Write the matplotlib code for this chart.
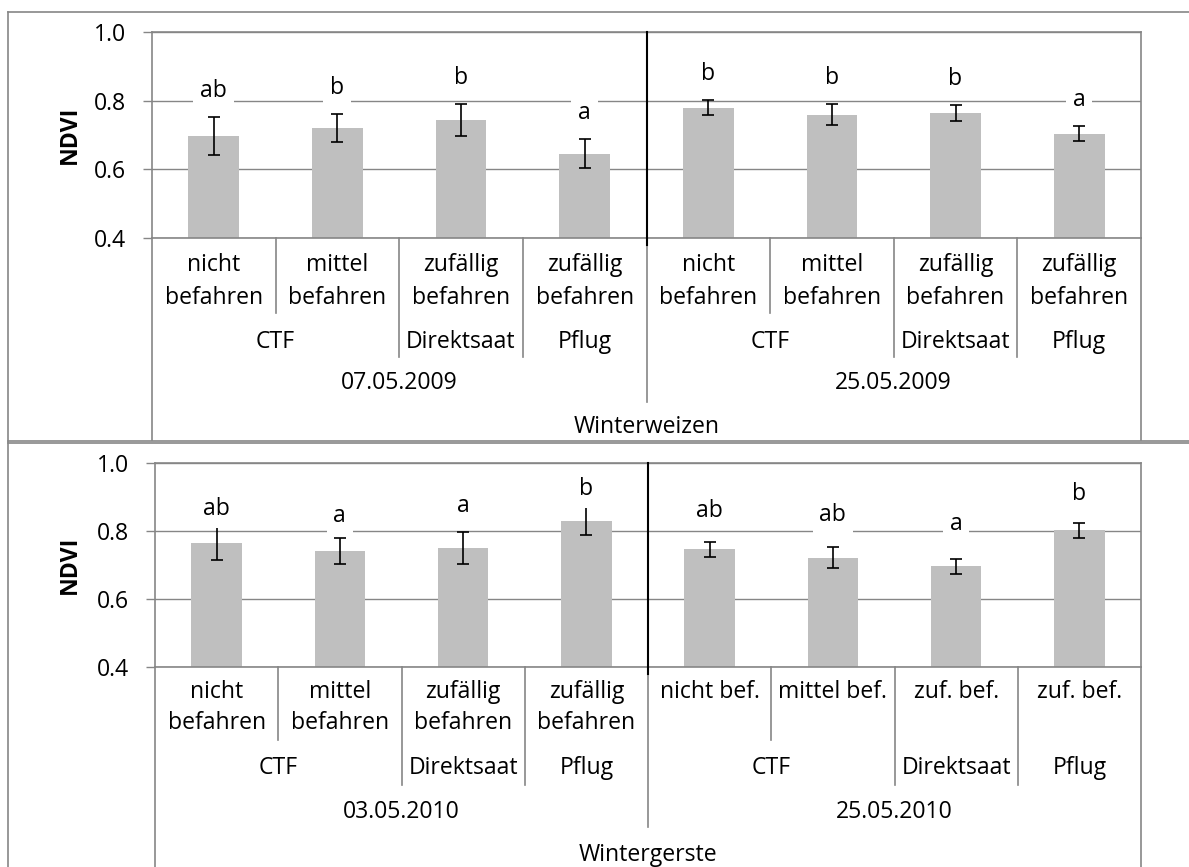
import matplotlib
matplotlib.use("Agg")
import matplotlib.pyplot as plt
from matplotlib.transforms import Affine2D, blended_transform_factory

# ---------------- data ----------------
treat_long = ["nicht\nbefahren", "mittel\nbefahren", "zufällig\nbefahren", "zufällig\nbefahren"]
treat_short = ["nicht bef.", "mittel bef.", "zuf. bef.", "zuf. bef."]
systems = ["CTF", "Direktsaat", "Pflug"]
system_spans = [2, 1, 1]

dates_ww = ["07.05.2009", "25.05.2009"]
dates_wg = ["03.05.2010", "25.05.2010"]
crops = ["Winterweizen", "Wintergerste"]

ndvi_ww = [0.697, 0.721, 0.743, 0.646, 0.780, 0.759, 0.764, 0.704]
err_ww = [0.054, 0.040, 0.047, 0.042, 0.022, 0.030, 0.022, 0.021]
letters_ww = ["ab", "b", "b", "a", "b", "b", "b", "a"]

ndvi_wg = [0.764, 0.741, 0.749, 0.829, 0.745, 0.721, 0.696, 0.801]
err_wg = [0.050, 0.039, 0.047, 0.040, 0.022, 0.030, 0.022, 0.022]
letters_wg = ["ab", "a", "a", "b", "ab", "ab", "a", "b"]

yticks = [0.4, 0.6, 0.8, 1.0]

# ---------------- layout / style ----------------
W, H = 1189, 867
FONT = "Open Sans"
FS = 16.6
GRAY = "#868686"
BAR = "#BFBFBF"

plt.rcParams["font.family"] = [FONT, "DejaVu Sans"]

fig = plt.figure(figsize=(W / 100, H / 100), dpi=100)
pix = Affine2D().scale(1 / W, -1 / H).translate(0, 1) + fig.transFigure

panels = [
    dict(left=152, right=1141, top=32, axis=238, bottom=440,
         labels=treat_long + treat_long, dates=dates_ww, crop=crops[0],
         vals=ndvi_ww, errs=err_ww, letters=letters_ww,
         gaps=[26, 26, 26, 26, 26, 26, 26, 26],
         l1=(27, 60), l1_sep=75, l2=104, l2_sep=119, l3=145, l3_sep=164, l4=189,
         ndvi_y=135),
    dict(left=155, right=1141, top=463, axis=666.5, bottom=867,
         labels=treat_long + treat_short, dates=dates_wg, crop=crops[1],
         vals=ndvi_wg, errs=err_wg, letters=letters_wg,
         gaps=[17, 22, 26, 18, 31, 32, 35, 29],
         l1=(25.5, 56.5), l1_sep=73.5, l2=101.5, l2_sep=118.5, l3=145.5, l3_sep=160.5, l4=188.5,
         ndvi_y=565),
]

# outer frames
fig.add_artist(plt.Line2D([8, 8], [12, H], transform=pix, color=GRAY, lw=1.2))
fig.add_artist(plt.Line2D([8, W], [12, 12], transform=pix, color=GRAY, lw=1.2))
fig.add_artist(plt.Line2D([8, W], [440.5, 440.5], transform=pix, color=GRAY, lw=1.2))
fig.add_artist(plt.Line2D([8, W], [443, 443], transform=pix, color=GRAY, lw=1.2))

for p in panels:
    ax = fig.add_axes([p["left"] / W, 1 - p["axis"] / H,
                       (p["right"] - p["left"]) / W, (p["axis"] - p["top"]) / H])
    n = len(p["vals"])
    x = list(range(n))
    ax.bar(x, [v - 0.4 for v in p["vals"]], bottom=0.4, width=0.41, color=BAR, zorder=2)
    ax.errorbar(x, p["vals"], yerr=p["errs"], fmt="none", ecolor="black",
                elinewidth=1.2, capsize=4.3, capthick=1.2, zorder=3)
    ax.set_xlim(-0.5, n - 0.5)
    ax.set_ylim(0.4, 1.0)
    ax.set_yticks(yticks)
    ax.set_yticklabels([f"{t:.1f}" for t in yticks], fontsize=FS)
    ax.set_xticks([])
    ax.tick_params(axis="y", direction="out", length=6.5, width=1, color=GRAY, pad=12)
    ax.grid(axis="y", color=GRAY, lw=1)
    ax.set_axisbelow(True)
    for s in ["left", "right", "bottom", "top"]:
        ax.spines[s].set_color(GRAY)
        ax.spines[s].set_linewidth(1.2)

    # center divider (black)
    bt = blended_transform_factory(ax.transData, pix)
    ax.plot([3.5, 3.5], [p["top"], p["axis"] + 7], transform=bt, color="black",
            lw=1.5, clip_on=False, zorder=4)

    # significance letters
    for xi, v, e, lab, g in zip(x, p["vals"], p["errs"], p["letters"], p["gaps"]):
        ax.annotate(lab, (xi, v + e), xytext=(0, g * 0.72), textcoords="offset points",
                    ha="center", va="center", fontsize=FS, zorder=5,
                    bbox=dict(boxstyle="square,pad=0.3", fc="white", ec="none"))

    a = p["axis"]
    # level-1 labels and separators
    for xi, lab in enumerate(p["labels"]):
        parts = lab.split("\n")
        for k, part in enumerate(parts):
            ax.text(xi, a + p["l1"][k], part, transform=bt, ha="center", va="center",
                    fontsize=FS, clip_on=False)
    for b in range(1, n):
        xb = b - 0.5
        if xb == 3.5:
            y2 = a + p["l3_sep"]
        elif b % 4 in (2, 3):
            y2 = a + p["l2_sep"]
        else:
            y2 = a + p["l1_sep"]
        ax.plot([xb, xb], [a, y2], transform=bt, color=GRAY, lw=1.2, clip_on=False)
    for xb in (-0.5, n - 0.5):
        ax.plot([xb, xb], [a, p["bottom"]], transform=bt, color=GRAY, lw=1.2, clip_on=False)

    # level-2 labels
    for g0 in (0, 4):
        start = g0
        for sname, span in zip(systems, system_spans):
            ax.text(start + (span - 1) / 2, a + p["l2"], sname, transform=bt,
                    ha="center", va="center", fontsize=FS, clip_on=False)
            start += span
    # level-3 labels (dates)
    for gi, d in enumerate(p["dates"]):
        ax.text(gi * 4 + 1.5, a + p["l3"], d, transform=bt, ha="center", va="center",
                fontsize=FS, clip_on=False)
    # level-4 (crop)
    ax.text(3.5, a + p["l4"], p["crop"], transform=bt, ha="center", va="center",
            fontsize=FS, clip_on=False)

    fig.text(70 / W, 1 - p["ndvi_y"] / H, "NDVI", rotation=90, ha="center", va="center",
             fontsize=FS, fontweight="bold")

fig.savefig("out.png", dpi=100)
